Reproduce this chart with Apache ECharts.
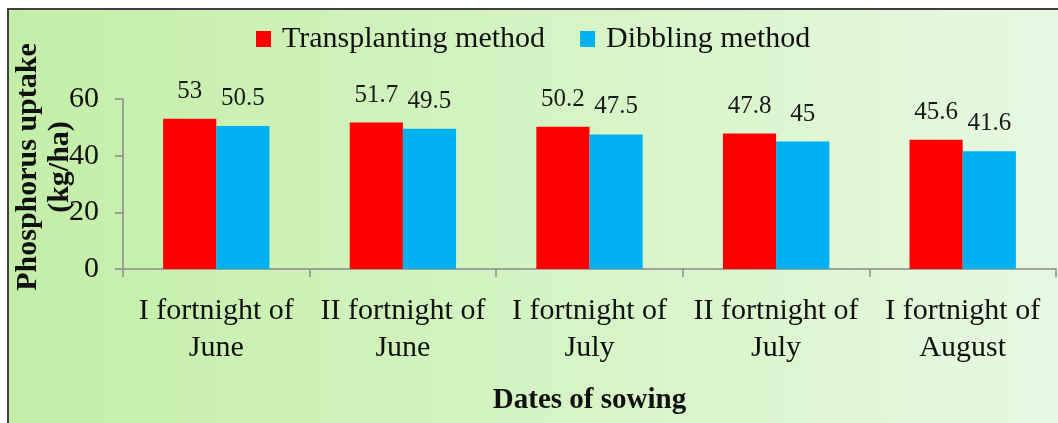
<!DOCTYPE html>
<html>
<head>
<meta charset="utf-8">
<script src="https://cdn.jsdelivr.net/npm/echarts@6/dist/echarts.min.js"></script>
<style>
  html, body { margin: 0; padding: 0; background: #ffffff; }
  #chart { width: 1058px; height: 423px; }
</style>
</head>
<body>
<div id="chart"></div>
<script>
// Sowing dates (category axis, two-line labels)
const sowingDates = [
  'I fortnight of\nJune',
  'II fortnight of\nJune',
  'I fortnight of\nJuly',
  'II fortnight of\nJuly',
  'I fortnight of\nAugust'
];
// Phosphorus uptake (kg/ha) per method
const transplanting = [53, 51.7, 50.2, 47.8, 45.6];
const dibbling = [50.5, 49.5, 47.5, 45, 41.6];
const seriesNames = ['Transplanting method', 'Dibbling method'];
// Value axis range
const yMin = 0, yMax = 60, yStep = 20;

const serif = "'Liberation Serif', 'Times New Roman', serif";
const axisGray = '#8a8a8a';

const chart = echarts.init(document.getElementById('chart'), null, { renderer: 'canvas' });

const barLabel = {
  show: true,
  position: 'top',
  distance: 15,
  fontFamily: serif,
  fontSize: 25,
  color: '#1a1a1a'
};

chart.setOption({
  backgroundColor: '#ffffff',
  animation: false,
  graphic: [{
    type: 'rect',
    z: -10,
    silent: true,
    shape: { x: 8, y: 9, width: 1200, height: 600 },
    style: {
      fill: new echarts.graphic.LinearGradient(8, 0, 1058, 0, [
        { offset: 0, color: '#c3eea8' },
        { offset: 0.5, color: '#d4f4c3' },
        { offset: 1, color: '#e7f8e1' }
      ], true),
      stroke: '#404040',
      lineWidth: 2
    }
  }],
  legend: {
    left: 251,
    top: 19,
    itemWidth: 15,
    itemHeight: 16,
    itemGap: 35,
    icon: 'rect',
    textStyle: {
      fontFamily: serif,
      fontSize: 30,
      color: '#111111',
      padding: [0, 0, 0, 6]
    },
    data: seriesNames
  },
  grid: {
    left: 123,
    right: 2,
    top: 99,
    bottom: 154,
    containLabel: false,
    outerBoundsMode: 'none'
  },
  xAxis: {
    type: 'category',
    data: sowingDates,
    name: 'Dates of sowing',
    nameLocation: 'middle',
    nameGap: 117,
    nameMoveOverlap: false,
    nameTextStyle: {
      fontFamily: serif,
      fontSize: 29,
      fontWeight: 'bold',
      color: '#111111'
    },
    axisLine: { lineStyle: { color: axisGray, width: 1.5 } },
    axisTick: { show: true, length: 8, alignWithLabel: false, lineStyle: { color: axisGray, width: 1.5 } },
    axisLabel: {
      interval: 0,
      margin: 24,
      fontFamily: serif,
      fontSize: 30,
      lineHeight: 37,
      color: '#111111'
    },
    splitLine: { show: false }
  },
  yAxis: {
    type: 'value',
    min: yMin,
    max: yMax,
    interval: yStep,
    name: 'Phosphorus uptake\n(kg/ha)',
    nameLocation: 'middle',
    nameGap: 47,
    nameMoveOverlap: false,
    nameTextStyle: {
      fontFamily: serif,
      fontSize: 30,
      fontWeight: 'bold',
      lineHeight: 32,
      color: '#111111',
      padding: [0, 0, 0, 34]
    },
    axisLine: { show: true, lineStyle: { color: axisGray, width: 1.5 } },
    axisTick: { show: true, length: 8, lineStyle: { color: axisGray, width: 1.5 } },
    axisLabel: {
      margin: 24,
      fontFamily: serif,
      fontSize: 30,
      color: '#111111'
    },
    splitLine: { show: false }
  },
  series: [
    {
      name: seriesNames[0],
      type: 'bar',
      data: transplanting,
      barGap: '0%',
      barCategoryGap: '43%',
      itemStyle: { color: '#ff0000' },
      label: barLabel
    },
    {
      name: seriesNames[1],
      type: 'bar',
      data: dibbling,
      barGap: '0%',
      barCategoryGap: '43%',
      itemStyle: { color: '#00b0f0' },
      label: barLabel
    }
  ]
});
</script>
</body>
</html>
